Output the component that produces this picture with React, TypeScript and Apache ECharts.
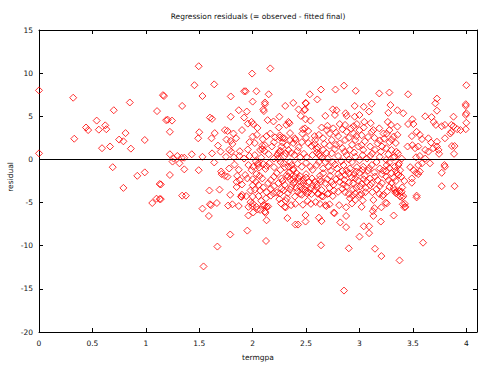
import React, { useEffect, useRef } from "react";
import * as echarts from "echarts";

const TITLE = "Regression residuals (= observed - fitted final)";
const X_NAME = "termgpa";
const Y_NAME = "residual";
const X_MIN = 0;
const X_MAX = 4.1;
const X_STEP = 0.5;
const Y_MIN = -20;
const Y_MAX = 15;
const Y_STEP = 5;

// [termgpa, residual]
const gpaBelow12: [number, number][] = [
  [0.0, 8.0], [0.0, 0.7], [0.32, 7.15], [0.33, 2.4], [0.44, 3.7], [0.46, 3.4], [0.54, 4.5],
  [0.56, 3.45], [0.62, 3.95], [0.63, 3.5], [0.59, 1.3], [0.665, 1.5], [0.7, 5.7], [0.69, -0.9],
  [0.75, 2.3], [0.79, 2.1], [0.81, 3.05], [0.86, 1.25], [0.85, 6.6], [0.79, -3.3], [0.92, -1.9],
  [0.99, -1.5], [0.99, 2.25], [1.105, 5.6], [1.16, 7.45], [1.17, 7.35], [1.13, -2.85], [1.06, -5.05],
  [1.1, -4.55], [1.13, -4.6], [1.19, 4.55], [1.14, -2.9], [1.14, -4.6],
];

const gpa12to20: [number, number][] = [
  [1.495, 10.8], [1.455, 8.6], [1.64, 8.7], [1.53, 7.35], [1.795, 7.3], [1.92, 7.9], [1.34, 6.2],
  [1.87, 5.7], [1.945, 5.55], [1.6, 4.85], [1.62, 4.7], [1.795, 4.95], [1.92, 4.85], [1.205, 4.6],
  [1.245, 4.5], [1.955, 4.15], [1.225, 3.2], [1.5, 3.15], [1.49, 2.45], [1.645, 3.05], [1.615, 2.45],
  [1.74, 3.4], [1.765, 3.3], [1.755, 2.3], [1.795, 2.15], [1.845, 2.45], [1.81, 1.8], [1.675, 1.6],
  [1.78, 1.1], [1.8, 0.9], [1.88, 0.95], [1.955, 1.15], [1.7, 0.9], [1.62, 0.7], [1.43, 0.6],
  [1.225, 0.6], [1.295, 0.4], [1.26, 0.1], [1.335, 0.2], [1.36, 0.2], [1.53, 0.3], [1.75, 0.3],
  [1.825, 0.25], [1.875, 0.4], [1.25, -0.25], [1.315, -0.45], [1.64, -0.35], [1.78, -1.05],
  [1.96, -0.65], [1.36, -1.15], [1.495, -1.25], [1.705, -1.4], [1.71, -1.7], [1.74, -1.9],
  [1.765, -2.0], [1.855, -1.9], [1.85, -2.6], [1.88, -2.4], [1.93, -1.8], [1.95, -2.2], [1.225, -1.8],
  [1.595, -3.6], [1.69, -3.5], [1.79, -4.1], [1.895, -4.35], [1.94, -4.25], [1.34, -4.2], [1.375, -4.2],
  [1.53, -5.7], [1.61, -5.3], [1.6, -5.2], [1.665, -5.05], [1.77, -5.35], [1.81, -5.2], [1.87, -5.4],
  [1.59, -6.55], [1.96, -6.5], [1.95, -8.25], [1.79, -8.7], [1.67, -10.1], [1.54, -12.4],
  [1.89, -4.3], [1.9, -4.1], [1.98, -4.95], [1.96, -5.5], [1.935, 7.9], [1.99, -1.25],
  [1.83, -0.6], [1.87, -1.2], [1.92, 0.1], [1.97, 0.4], [1.85, -3.2], [1.9, -2.9], [1.98, -3.6],
  [1.82, 3.0], [1.9, 3.4], [1.97, 2.0],
];

const gpa20to27: [number, number][] = [
  [1.995, 9.95], [2.165, 10.55], [2.035, 7.9], [2.15, 7.55], [2.0, 6.7], [2.115, 6.6], [2.115, 6.4],
  [2.1, 5.8], [2.105, 5.6], [2.305, 6.2], [2.38, 6.55], [2.495, 6.55], [2.535, 7.55], [2.64, 8.1],
  [2.605, 6.95], [2.43, 5.8], [2.485, 5.7], [2.45, 5.05], [2.495, 4.65], [2.54, 4.5], [2.335, 4.35],
  [2.315, 4.0], [2.345, 4.2], [1.99, 4.35], [2.005, 4.1], [2.045, 3.65], [2.14, 4.55], [2.195, 4.4],
  [2.25, 4.95], [2.245, 3.7], [2.645, 3.7], [2.0, 2.65], [2.04, 2.85], [2.095, 2.35], [2.13, 2.7],
  [2.165, 3.0], [2.21, 2.55], [2.255, 2.55], [2.295, 2.45], [2.35, 2.25], [2.395, 2.45], [2.465, 3.0],
  [2.5, 2.5], [2.585, 2.25], [2.62, 2.85], [2.66, 2.45], [2.07, 1.1], [2.11, 1.0], [2.24, 0.7],
  [2.335, 1.1], [2.39, 0.5], [2.445, 0.25], [2.505, 0.25], [2.6, 0.8], [2.63, 0.4], [2.115, 1.65],
  [2.18, 1.5], [2.27, 1.5], [2.32, 1.65], [2.43, 1.4], [2.55, 1.55], [2.67, 1.8], [2.005, -0.85],
  [2.05, -0.65], [2.1, -0.55], [2.13, -0.75], [2.155, -0.45], [2.035, -1.7], [2.065, -1.9],
  [2.3, -0.9], [2.38, -1.1], [2.46, -0.85], [2.54, -0.85], [2.6, -0.65], [2.66, -1.05], [2.225, -1.6],
  [2.32, -1.8], [2.395, -2.0], [2.475, -2.4], [2.555, -2.2], [2.63, -1.9], [2.055, -2.95], [2.1, -3.25],
  [2.145, -2.75], [2.17, -2.4], [2.24, -2.75], [2.3, -2.95], [2.38, -2.75], [2.445, -3.15],
  [2.495, -3.55], [2.55, -3.35], [2.615, -3.95], [2.66, -4.3], [2.055, -4.25], [2.195, -3.95],
  [2.255, -3.95], [2.32, -4.5], [2.395, -4.3], [2.46, -4.1], [2.12, -6.2], [2.13, -5.5], [2.265, -5.1],
  [2.3, -5.5], [2.23, 0.5], [2.05, -0.45], [2.06, -0.95], [2.33, -2.0], [2.38, -2.3], [2.395, -2.6],
  [2.43, -2.2], [2.445, -2.6], [2.475, -2.75], [2.49, -3.15], [2.335, -0.85], [2.365, -0.65],
  [2.38, -1.25], [2.29, -0.45], [2.3, 0.4], [2.24, 0.1], [2.02, 0.5], [2.08, 0.2], [2.15, 0.6],
  [2.2, 0.1], [2.26, 1.0], [2.36, 0.75], [2.42, 1.0], [2.48, 0.65], [2.56, 0.5], [2.6, 1.2],
  [2.02, 1.9], [2.09, 1.6], [2.2, 2.0], [2.28, 1.95], [2.38, 1.9], [2.46, 2.0], [2.52, 1.9],
  [2.58, 1.8], [2.03, -0.2], [2.12, -1.1], [2.2, -0.9], [2.26, -0.3], [2.35, -0.3], [2.42, -0.5],
  [2.5, -0.4], [2.56, -1.2], [2.62, -0.3], [2.0, -2.3], [2.09, -2.2], [2.2, -2.0], [2.27, -2.2],
  [2.35, -2.3], [2.5, -1.7], [2.58, -2.6], [2.64, -2.6], [2.02, -3.5], [2.17, -3.4], [2.27, -3.4],
  [2.35, -3.5], [2.42, -3.7], [2.55, -4.0], [2.6, -3.2], [2.125, -9.45], [2.13, -7.05], [2.325, -6.8],
  [2.4, -7.55], [2.425, -7.55], [2.495, -6.45], [2.495, -7.2], [2.62, -6.75], [2.645, -7.15],
  [2.64, -9.95], [2.115, -6.05], [2.005, -6.15], [2.0, -4.3], [1.995, -5.4], [2.045, -5.8],
  [2.115, -5.35], [2.145, -5.45], [2.0, -5.1], [2.25, -4.6], [2.31, -4.8], [2.36, -5.3], [2.31, -5.55],
  [2.4, -5.15], [2.47, -5.25], [2.515, -4.8], [2.545, -5.15], [2.59, -4.95], [2.63, -5.15],
  [2.68, -5.3], [2.69, -5.4], [2.61, -4.0], [2.645, -4.25], [2.445, -4.0], [2.51, -3.95],
  [2.225, -3.85], [2.17, -4.2], [2.125, -4.5], [2.08, -4.8], [2.1, -5.3], [2.07, -5.85], [2.035, -5.5],
  [2.5, 6.5], [2.49, 5.8],
  [2.255, 2.8], [2.28, 2.5], [2.35, 3.05], [2.4, 2.25], [2.09, 1.2], [2.25, 0.9], [2.31, 0.7],
  [2.62, 0.6], [2.65, 0.2], [2.49, 3.6], [2.52, 3.3], [2.47, 3.5], [2.58, 2.7], [2.61, 1.4],
  [2.26, -1.2], [2.28, -2.5], [2.34, -1.5], [2.41, -1.6], [2.44, -1.9], [2.5, -2.1], [2.53, -2.6],
  [2.56, -3.0], [2.6, -2.9], [2.63, -2.3], [2.36, -3.2], [2.41, -3.3], [2.47, -3.4], [2.52, -3.8],
  [2.58, -3.6], [2.29, -3.6], [2.33, -3.9], [2.2, -3.1], [2.13, -3.8], [2.07, -3.6], [2.0, -3.0],
  [2.03, -2.6],
];

const gpa27to34: [number, number][] = [
  [2.855, 8.55], [2.775, 8.1], [2.965, 7.95], [3.185, 7.65], [3.28, 7.75], [3.115, 6.45], [3.04, 6.1],
  [2.955, 6.2], [3.29, 6.3], [3.355, 5.7], [2.75, 5.8], [2.785, 5.7], [2.77, 5.15], [2.87, 5.35],
  [2.88, 5.05], [2.68, 5.05], [2.955, 4.95], [3.0, 5.15], [3.09, 5.55], [3.27, 5.4], [3.265, 4.35],
  [3.045, 4.35], [3.105, 4.2], [3.295, 4.0], [3.355, 3.8], [2.695, 3.4], [2.755, 3.6], [2.815, 4.1],
  [2.865, 4.0], [2.945, 3.85], [2.975, 4.1], [2.88, 3.2], [2.945, 3.0], [3.0, 3.4], [3.02, 2.8],
  [3.115, 3.2], [3.13, 3.4], [3.185, 3.6], [3.225, 3.0], [3.255, 3.0], [3.32, 2.65], [3.355, 2.85],
  [2.74, 2.25], [2.815, 1.85], [2.865, 2.25], [2.91, 1.1], [2.96, 2.25], [2.99, 1.5], [3.02, 1.65],
  [3.035, 1.1], [3.1, 1.5], [3.145, 1.1], [3.21, 1.5], [3.25, 1.3], [3.3, 1.1], [3.345, 0.9],
  [2.66, 1.1], [2.74, 0.7], [2.8, 0.4], [2.88, 0.5], [2.96, 0.3], [3.1, 0.4], [3.19, 0.3],
  [3.25, -0.05], [3.315, 0.25], [2.71, -0.85], [2.79, -1.05], [2.85, -0.65], [2.91, -1.05],
  [2.975, -0.9], [3.035, -0.85], [3.115, -0.65], [3.19, -1.05], [3.255, -0.65], [3.33, -0.85],
  [3.37, -0.45], [2.66, -1.6], [2.725, -1.9], [2.8, -1.7], [2.865, -1.8], [2.93, -2.1], [2.97, -1.4],
  [3.05, -1.9], [3.1, -2.2], [3.145, -2.0], [3.21, -1.7], [3.32, -2.1], [3.365, -1.8], [2.68, -2.75],
  [2.755, -2.95], [2.815, -2.6], [2.88, -3.15], [2.94, -2.75], [3.005, -3.15], [3.065, -2.6],
  [3.115, -2.75], [3.21, -2.75], [2.645, -3.55], [2.71, -3.95], [2.8, -3.75], [2.91, -4.5],
  [2.96, -3.95], [3.225, -4.1], [3.255, -5.1], [3.33, -3.55], [2.7, 0.1], [2.75, -0.3], [2.83, -0.2],
  [2.9, 0.0], [2.93, -0.3], [3.0, -0.1], [3.07, 0.1], [3.16, -0.3], [3.28, -0.35], [2.69, 0.75],
  [2.77, 1.2], [2.84, 1.3], [2.93, 1.7], [3.05, 2.1], [3.17, 1.85], [3.28, 2.0], [2.73, -1.3],
  [2.84, -1.35], [2.9, -1.6], [3.0, -1.55], [3.08, -1.3], [3.25, -1.35], [3.3, -1.6], [2.7, -2.3],
  [2.78, -2.3], [2.86, -2.4], [2.99, -2.45], [3.04, -2.3], [3.17, -2.4], [3.27, -2.4], [2.72, -3.3],
  [2.84, -3.4], [2.94, -3.45], [3.06, -3.3], [3.16, -3.45], [3.28, -3.2], [2.82, -7.3], [2.875, -7.85],
  [2.9, -10.3], [2.855, -15.2], [3.0, -8.95], [3.04, -7.75], [3.09, -7.75], [3.09, -8.55],
  [3.145, -10.35], [3.205, -11.2], [3.375, -11.7], [3.32, -6.5], [3.2, -7.2], [3.13, -6.55],
  [3.125, -6.0], [2.875, -6.55], [2.765, -6.25], [2.72, -5.2], [2.76, -6.15], [2.81, -5.3],
  [2.875, -5.55], [2.93, -5.1], [2.96, -4.7], [3.02, -5.5], [3.03, -4.75], [3.0, -4.1], [3.13, -4.7],
  [3.14, -5.65], [3.205, -5.55], [3.245, -5.0], [3.215, -4.25], [3.185, -4.0], [3.345, -3.95],
  [3.38, -4.3], [3.055, -3.8], [3.02, -4.0], [2.865, -3.8], [2.9, -4.0], [2.935, -4.2], [2.7, -4.0],
  [2.75, -4.25], [3.32, -3.3], [3.335, -3.8],
  [2.7, 3.9], [2.72, 3.0], [2.78, 3.1], [2.8, 2.7], [2.84, 3.5], [2.9, 2.5], [2.92, 3.6], [2.97, 2.7],
  [3.04, 3.7], [3.08, 2.6], [3.14, 2.5], [3.19, 2.2], [3.23, 2.4], [3.28, 3.4], [3.3, 2.3], [3.34, 1.9],
  [2.72, 1.6], [2.78, 1.7], [2.86, 0.9], [2.95, 0.8], [3.03, 0.5], [3.12, 0.7], [3.2, 0.9], [3.27, 0.6],
  [3.33, 0.3], [2.68, -0.3], [2.77, -0.6], [2.88, -1.3], [2.95, -1.7], [3.03, -1.2], [3.09, -1.0],
  [3.14, -1.5], [3.22, -1.3], [3.28, -1.0], [3.34, -1.3], [2.74, -2.6], [2.82, -2.0], [2.9, -2.7],
  [2.97, -3.3], [3.02, -2.8], [3.1, -3.0], [3.19, -3.1], [3.25, -2.0], [3.3, -2.7], [3.34, -2.5],
  [2.76, -3.6], [2.85, -2.9], [2.96, -2.2], [3.12, -3.8], [3.26, -3.7],
];

const gpaAbove34: [number, number][] = [
  [4.0, 8.6], [3.455, 7.55], [3.725, 7.05], [3.71, 6.5], [3.725, 5.65], [3.995, 6.4], [3.995, 6.2],
  [4.0, 5.35], [3.995, 5.15], [4.0, 4.25], [3.995, 3.5], [3.945, 3.4], [3.41, 5.35], [3.615, 5.0],
  [3.675, 4.9], [3.695, 4.35], [3.715, 4.0], [3.77, 3.85], [3.8, 4.0], [3.86, 4.0], [3.88, 3.85],
  [3.88, 4.95], [3.915, 3.5], [3.455, 4.1], [3.495, 4.65], [3.505, 4.1], [3.49, 2.7], [3.535, 3.2],
  [3.565, 2.85], [3.585, 2.35], [3.645, 2.45], [3.67, 1.95], [3.725, 2.05], [3.8, 2.45], [3.85, 3.0],
  [3.865, 1.55], [3.89, 1.55], [3.86, 3.2], [3.45, 1.5], [3.495, 1.65], [3.52, 1.3], [3.55, 1.5],
  [3.615, 1.1], [3.645, 0.9], [3.69, 1.3], [3.725, 1.5], [3.74, 1.1], [3.66, -0.45], [3.745, 0.65],
  [3.885, 0.65], [3.36, 0.7], [3.395, 0.1], [3.53, 0.25], [3.565, 0.4], [3.615, 0.1], [3.585, -0.45],
  [3.55, -0.65], [3.795, -0.65], [3.8, -0.85], [3.77, -1.55], [3.475, -0.9], [3.505, -1.25],
  [3.53, -1.55], [3.55, -1.7], [3.565, -1.4], [3.49, -2.2], [3.365, -0.65], [3.38, -1.25],
  [3.35, -1.6], [3.39, -2.0], [3.42, -2.5], [3.77, -3.1], [3.89, -3.1], [3.35, -3.75], [3.395, -3.75],
  [3.41, -4.25], [3.4, -4.4], [3.425, -5.15], [3.43, -5.5], [3.535, -4.4], [3.595, -9.65],
  [3.405, -5.2], [3.42, -5.55], [3.375, -3.65], [3.4, -3.25], [3.535, -4.2], [3.49, -2.7],
];

const allPoints = [...gpaBelow12, ...gpa12to20, ...gpa20to27, ...gpa27to34, ...gpaAbove34];

const FONT = "DejaVu Sans";
const FONT_SIZE = 7.5;
const TEXT_COLOR = "#111";
const POINT_COLOR = "#ff0000";

export default function App() {
  const ref = useRef<HTMLDivElement>(null);

  useEffect(() => {
    if (!ref.current) return;
    const chart = echarts.init(ref.current, null, { renderer: "svg" });
    const line = { show: true, onZero: false, lineStyle: { color: "#000", width: 1 } };
    const tick = { show: true, inside: true, length: 4, lineStyle: { color: "#000", width: 1 } };
    const isStep = (v: number, step: number) => Math.abs(v / step - Math.round(v / step)) < 1e-6;
    const xCommon = { type: "value", min: X_MIN, max: X_MAX, interval: X_STEP, axisLine: line, axisTick: tick, splitLine: { show: false } };
    const yCommon = { type: "value", min: Y_MIN, max: Y_MAX, interval: Y_STEP, axisLine: line, axisTick: tick, splitLine: { show: false } };
    const textStyle = { fontSize: FONT_SIZE, fontFamily: FONT, fill: TEXT_COLOR, textAlign: "center", textVerticalAlign: "middle" };

    chart.setOption({
      animation: false,
      backgroundColor: "#fff",
      grid: { left: 39, top: 30, right: 15, bottom: 36, containLabel: false },
      xAxis: [
        {
          ...xCommon,
          position: "bottom",
          axisLabel: {
            margin: 7,
            fontSize: FONT_SIZE,
            fontFamily: FONT,
            color: TEXT_COLOR,
            formatter: (v: number) => (isStep(v, X_STEP) ? String(v) : ""),
          },
        },
        { ...xCommon, position: "top", axisLabel: { show: false } },
      ],
      yAxis: [
        {
          ...yCommon,
          position: "left",
          axisLabel: { margin: 6, fontSize: FONT_SIZE, fontFamily: FONT, color: TEXT_COLOR },
        },
        { ...yCommon, position: "right", axisLabel: { show: false } },
      ],
      graphic: [
        { type: "text", x: 258, y: 16, style: { ...textStyle, text: TITLE } },
        { type: "text", x: 258, y: 357, style: { ...textStyle, text: X_NAME } },
        { type: "text", x: 10, y: 177, rotation: Math.PI / 2, style: { ...textStyle, text: Y_NAME } },
      ],
      series: [
        {
          type: "scatter",
          xAxisIndex: 0,
          yAxisIndex: 0,
          data: allPoints,
          symbol: "diamond",
          symbolSize: 7,
          clip: false,
          itemStyle: { color: "transparent", borderColor: POINT_COLOR, borderWidth: 1 },
          emphasis: { disabled: true },
          markLine: {
            silent: true,
            symbol: ["none", "none"],
            label: { show: false },
            lineStyle: { color: "#000", width: 1, type: "solid" },
            data: [{ yAxis: 0 }],
          },
        },
      ],
    });
    return () => chart.dispose();
  }, []);

  return (
    <div
      ref={ref}
      style={{ position: "fixed", left: 0, top: 0, width: 492, height: 368, background: "#fff" }}
    />
  );
}
